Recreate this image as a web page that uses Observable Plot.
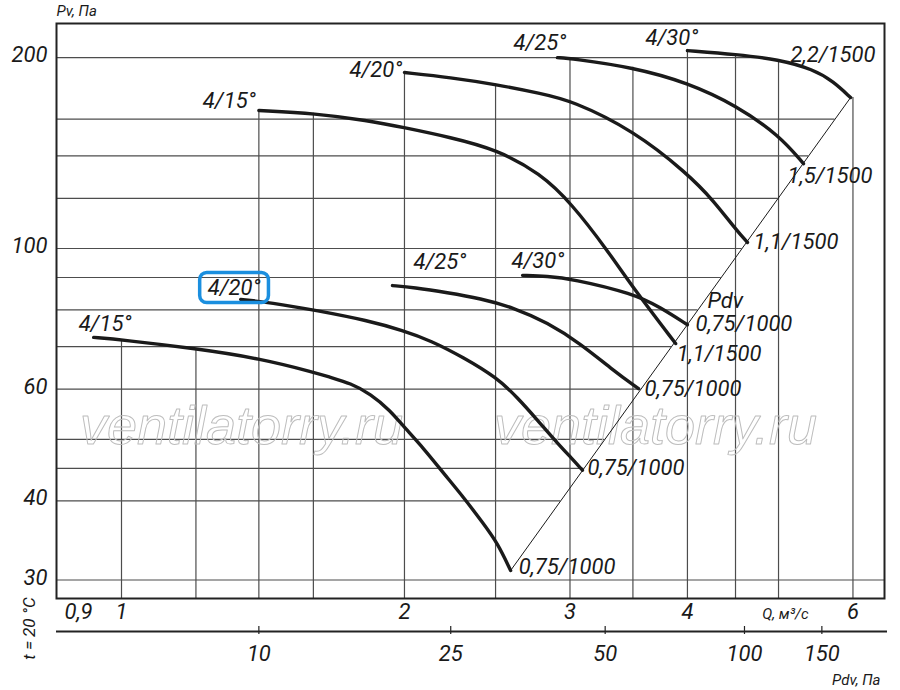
<!DOCTYPE html>
<html><head><meta charset="utf-8">
<script src="https://cdn.jsdelivr.net/npm/d3@7"></script>
<script src="https://cdn.jsdelivr.net/npm/@observablehq/plot@0.6"></script>
<style>
html,body{margin:0;padding:0;background:#fff;}
#chart{width:900px;height:690px;position:relative;}
</style></head><body><div id="chart"></div>
<script>
// ---------- data ----------
const angles = ["4/15°", "4/20°", "4/25°", "4/30°"];
const motors1000 = ["0,75/1000", "0,75/1000", "0,75/1000", "0,75/1000"];
const motors1500 = ["1,1/1500", "1,1/1500", "1,5/1500", "2,2/1500"];

// n = 1000 rpm
const q1000_15 = [0.934, 1.0, 1.202, 1.402, 1.608, 1.669, 1.752, 1.84, 1.932, 1.995, 2.096, 2.201, 2.312, 2.427, 2.512, 2.594];
const p1000_15 = [72.4, 71.8, 69.5, 67.1, 63.7, 62.6, 61.3, 59.0, 55.5, 52.4, 48.4, 44.2, 40.5, 36.8, 34.3, 31.05];
const q1000_20 = [1.339, 1.44, 1.616, 1.827, 1.995, 2.132, 2.312, 2.506, 2.638, 2.771, 2.909, 3.011, 3.093];
const p1000_20 = [83.1, 82.2, 79.8, 77.0, 74.2, 71.6, 67.3, 62.6, 58.2, 53.6, 49.3, 46.7, 44.7];
const q1000_25 = [1.942, 2.045, 2.222, 2.409, 2.612, 2.839, 3.078, 3.337, 3.548];
const p1000_25 = [87.4, 86.8, 85.2, 83.4, 80.7, 76.4, 70.8, 64.2, 60.1];
const q1000_30 = [2.671, 2.839, 3.011, 3.505, 3.745, 4.0];
const p1000_30 = [90.7, 90.4, 89.6, 84.9, 80.7, 75.8];

// n = 1500 rpm
const q1500_15 = [1.40, 1.608, 1.827, 1.995, 2.239, 2.506, 2.791, 3.011, 3.289, 3.505, 3.886];
const p1500_15 = [165.1, 163.3, 159.2, 155.2, 149.7, 143.3, 131.3, 117.8, 99.3, 86.5, 70.8];
const q1500_20 = [2.0, 2.239, 2.506, 2.791, 3.011, 3.505, 4.0, 4.264, 4.511, 4.634];
const p1500_20 = [189.5, 186.1, 181.4, 175.6, 171.2, 153.5, 131.3, 119.0, 106.8, 102.2];
const q1500_25 = [2.909, 3.011, 3.505, 4.0, 4.511, 5.012, 5.315];
const p1500_25 = [200, 199.4, 193.0, 182.7, 168.1, 150.7, 136.1];
const q1500_30 = [4.0, 4.511, 5.0, 5.447, 5.72, 5.965];
const p1500_30 = [205.2, 202.3, 198.7, 191.6, 183.4, 173.0];

// dynamic pressure line (Pdv) through curve end points
const pdvLineQ = [2.594, 5.965];
const pdvLineP = [31.05, 173.0];

// axes
const xTicks = [0.9, 1, 2, 3, 4, 6];
const xTickLabels = ["0,9", "1", "2", "3", "4", "6"];
const yTicks = [30, 40, 60, 100, 200];
const gridQ = [1, 1.2, 1.4, 1.6, 2, 2.5, 3, 3.5, 4, 4.5, 5, 6];
const gridP = [30, 40, 45, 50, 60, 70, 80, 90, 100, 120, 140, 160, 200];
const pdvTicks = [10, 25, 50, 100, 150];
const pdvTickQ = [1.40, 2.24, 3.27, 4.60, 5.56];

// ---------- layout ----------
const W = 900, H = 690, ML = 56, MR = 16, MT = 23, MB = 92;
const FRAME_H = H - MT - MB;
const xDomain = [0.8528, 6.482];
const yDomain = [28.05, 226.4];
const INK = "#1a1a1a";
const FONT = "Roboto, 'Open Sans', 'DejaVu Sans', sans-serif";

// ---------- build curves ----------
const curves = [
  {id: "L15", angle: angles[0], motor: motors1000[0], Q: q1000_15, P: p1000_15},
  {id: "L20", angle: angles[1], motor: motors1000[1], Q: q1000_20, P: p1000_20},
  {id: "L25", angle: angles[2], motor: motors1000[2], Q: q1000_25, P: p1000_25},
  {id: "L30", angle: angles[3], motor: motors1000[3], Q: q1000_30, P: p1000_30},
  {id: "U15", angle: angles[0], motor: motors1500[0], Q: q1500_15, P: p1500_15},
  {id: "U20", angle: angles[1], motor: motors1500[1], Q: q1500_20, P: p1500_20},
  {id: "U25", angle: angles[2], motor: motors1500[2], Q: q1500_25, P: p1500_25},
  {id: "U30", angle: angles[3], motor: motors1500[3], Q: q1500_30, P: p1500_30}
];
const rows = curves.flatMap(c => c.Q.map((q, i) => ({id: c.id, Q: q, P: c.P[i]})));
const diagRows = pdvLineQ.map((q, i) => ({Q: q, P: pdvLineP[i]}));

const L = Math.log;
function interp(c, q) {
  const n = c.Q.length;
  if (q < c.Q[0] - 1e-9 || q > c.Q[n - 1] + 1e-9) return null;
  for (let i = 1; i < n; i++) {
    if (q <= c.Q[i] + 1e-9) {
      const t = (L(q) - L(c.Q[i - 1])) / (L(c.Q[i]) - L(c.Q[i - 1]));
      return Math.exp(L(c.P[i - 1]) + t * (L(c.P[i]) - L(c.P[i - 1])));
    }
  }
  return c.P[n - 1];
}
function env(q) {
  let m = null;
  for (const c of curves) { const v = interp(c, q); if (v != null && (m == null || v > m)) m = v; }
  if (m == null) {
    const last = curves.reduce((a, c) => c.Q[c.Q.length - 1] > a.Q[a.Q.length - 1] ? c : a);
    m = last.P[last.P.length - 1];
  }
  return m;
}
function rightBound(p) {
  if (p < pdvLineP[0]) return xDomain[1];
  if (p <= pdvLineP[1]) {
    const t = (L(p) - L(pdvLineP[0])) / (L(pdvLineP[1]) - L(pdvLineP[0]));
    return Math.exp(L(pdvLineQ[0]) + t * (L(pdvLineQ[1]) - L(pdvLineQ[0])));
  }
  let best = null;
  for (const c of curves) {
    for (let i = 1; i < c.Q.length; i++) {
      const a = c.P[i - 1], b = c.P[i];
      if ((a - p) * (b - p) <= 0 && a !== b) {
        const t = (L(p) - L(a)) / (L(b) - L(a));
        const q = Math.exp(L(c.Q[i - 1]) + t * (L(c.Q[i]) - L(c.Q[i - 1])));
        if (best == null || q > best) best = q;
      }
    }
  }
  return best ?? xDomain[1];
}

// label offsets (px) relative to curve start / end points
const startOffsets = {L15: [-15, -13], L20: [-33, -12], L25: [21, -24], L30: [-11, -14],
                      U15: [-56, -9], U20: [-55, -3], U25: [-44, -15], U30: [-42, -13]};
const endOffsets = {L15: [8, -4], L20: [5, -2], L25: [6, 0], L30: [8, -1],
                    U15: [1, 10], U20: [6, -1], U25: [-16, 12], U30: [-60, -43]};

const labelMarks = [];
for (const c of curves) {
  const s = {Q: c.Q[0], P: c.P[0], t: c.angle};
  const e = {Q: c.Q[c.Q.length - 1], P: c.P[c.P.length - 1], t: c.motor};
  labelMarks.push(Plot.text([s], {x: "Q", y: "P", text: "t", textAnchor: "start", lineAnchor: "middle",
    dx: startOffsets[c.id][0], dy: startOffsets[c.id][1], fontSize: 22, fill: INK}));
  labelMarks.push(Plot.text([e], {x: "Q", y: "P", text: "t", textAnchor: "start", lineAnchor: "middle",
    dx: endOffsets[c.id][0], dy: endOffsets[c.id][1], fontSize: 22, fill: INK}));
}
// "Pdv" label next to the dynamic pressure line
const c30 = curves[3];
labelMarks.push(Plot.text([{Q: c30.Q[c30.Q.length - 1], P: c30.P[c30.P.length - 1]}],
  {x: "Q", y: "P", text: () => "Pdv", textAnchor: "start", lineAnchor: "middle", dx: 20, dy: -24, fontSize: 22, fill: INK}));

const wmFont = "'Liberation Sans', Arial, sans-serif";
const plot = Plot.plot({
  width: W, height: H,
  marginLeft: ML, marginRight: MR, marginTop: MT, marginBottom: MB,
  style: {fontFamily: FONT, fontStyle: "italic", background: "#fff", color: INK, overflow: "visible"},
  x: {type: "log", domain: xDomain, axis: null},
  y: {type: "log", domain: yDomain, axis: null},
  marks: [
    // grid, clipped to the working area
    Plot.ruleX(gridQ, {x: d => d, y1: yDomain[0], y2: d => env(d), stroke: "#4d4d4d", strokeWidth: 1.2}),
    Plot.ruleY(gridP, {y: d => d, x1: xDomain[0], x2: d => rightBound(d), stroke: "#4d4d4d", strokeWidth: 1.2}),
    // watermark
    Plot.text(["ventilatorry.ru"], {text: d => d, frameAnchor: "top-left", dx: 185, dy: 403,
      textAnchor: "middle", lineAnchor: "middle",
      fontFamily: wmFont, fontSize: 54, fill: "none", stroke: "#bdbdbd", strokeWidth: 1}),
    Plot.text(["ventilatorry.ru"], {text: d => d, frameAnchor: "top-left", dx: 599, dy: 403,
      textAnchor: "middle", lineAnchor: "middle",
      fontFamily: wmFont, fontSize: 54, fill: "none", stroke: "#bdbdbd", strokeWidth: 1}),
    // Pdv line
    Plot.line(diagRows, {x: "Q", y: "P", stroke: INK, strokeWidth: 1}),
    // fan curves
    Plot.line(rows, {x: "Q", y: "P", z: "id", curve: "basis", stroke: INK, strokeWidth: 3.4}),
    // frame
    Plot.frame({stroke: "#222", strokeWidth: 2}),
    // y tick labels
    Plot.text(yTicks, {y: d => d, text: d => String(d), frameAnchor: "left", dx: -9, dy: -2.5,
      textAnchor: "end", lineAnchor: "middle", fontSize: 22, fill: INK}),
    // x tick labels
    Plot.text(xTicks, {x: d => d, text: (d, i) => xTickLabels[i], frameAnchor: "bottom", dy: 13,
      textAnchor: "middle", lineAnchor: "middle", fontSize: 22, fill: INK}),
    // secondary Pdv axis
    Plot.ruleY([yDomain[0]], {y: d => d, dy: 33, stroke: "#222", strokeWidth: 2, insetRight: -3}),
    Plot.ruleX(pdvTickQ, {x: d => d, insetTop: FRAME_H + 28, insetBottom: -36, stroke: "#222", strokeWidth: 1.2}),
    Plot.text(pdvTicks, {x: (d, i) => pdvTickQ[i], text: d => String(d), frameAnchor: "bottom", dy: 55.5,
      textAnchor: "middle", lineAnchor: "middle", fontSize: 22, fill: INK}),
    // axis titles
    Plot.text(["Pv, Па"], {text: d => d, frameAnchor: "top-left", dy: -12, textAnchor: "start", lineAnchor: "middle", fontSize: 15, fill: INK}),
    Plot.text(["Q, м³/с"], {text: d => d, frameAnchor: "bottom-right", dx: -99, dy: 16, textAnchor: "middle", lineAnchor: "middle", fontSize: 15, fill: INK}),
    Plot.text(["Pdv, Па"], {text: d => d, frameAnchor: "bottom-right", dx: -4, dy: 82, textAnchor: "end", lineAnchor: "middle", fontSize: 15, fill: INK}),
    Plot.text(["t = 20 °C"], {text: d => d, frameAnchor: "bottom-left", dx: -27, dy: 30, rotate: -90,
      textAnchor: "middle", lineAnchor: "middle", fontSize: 17, fill: INK}),
    ...labelMarks
  ]
});
document.getElementById("chart").appendChild(plot);

// highlight box around the lower "4/20°" label
(function () {
  const svg = plot;
  const svgRect = svg.getBoundingClientRect();
  let target = null, ty = -1;
  svg.querySelectorAll("text").forEach(t => {
    if (t.textContent === angles[1]) {
      const r = t.getBoundingClientRect();
      if (r.top > ty) { ty = r.top; target = r; }
    }
  });
  if (target) {
    d3.select(svg).append("rect")
      .attr("x", target.left - svgRect.left - 8)
      .attr("y", target.top - svgRect.top - 2)
      .attr("width", target.width + 16)
      .attr("height", target.height + 5)
      .attr("rx", 7).attr("ry", 7)
      .attr("fill", "none").attr("stroke", "#1b8fdf").attr("stroke-width", 3.5);
  }
})();
</script>
</body></html>
